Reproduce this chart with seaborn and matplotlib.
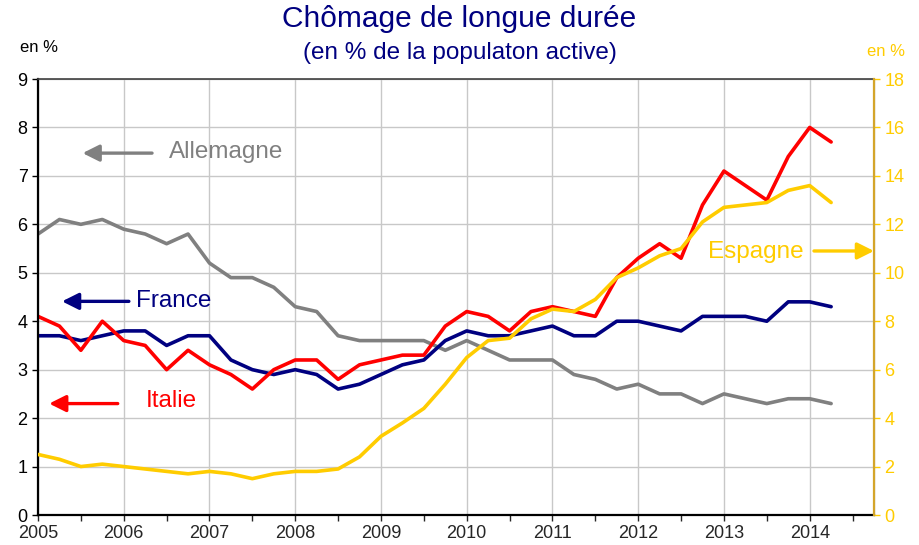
import matplotlib
matplotlib.use("Agg")
import matplotlib.pyplot as plt
import matplotlib.ticker as mticker
import numpy as np
import pandas as pd
import seaborn as sns

# quarterly data, 2005Q1 -> 2014Q2
periods = pd.period_range("2005Q1", "2014Q2", freq="Q")
dates = [p.year + (p.quarter - 1) / 4 for p in periods]

allemagne = [5.8, 6.1, 6.0, 6.1, 5.9, 5.8, 5.6, 5.8, 5.2, 4.9, 4.9, 4.7, 4.3, 4.2, 3.7, 3.6,
             3.6, 3.6, 3.6, 3.4, 3.6, 3.4, 3.2, 3.2, 3.2, 2.9, 2.8, 2.6, 2.7, 2.5, 2.5, 2.3,
             2.5, 2.4, 2.3, 2.4, 2.4, 2.3]
france = [3.7, 3.7, 3.6, 3.7, 3.8, 3.8, 3.5, 3.7, 3.7, 3.2, 3.0, 2.9, 3.0, 2.9, 2.6, 2.7,
          2.9, 3.1, 3.2, 3.6, 3.8, 3.7, 3.7, 3.8, 3.9, 3.7, 3.7, 4.0, 4.0, 3.9, 3.8, 4.1,
          4.1, 4.1, 4.0, 4.4, 4.4, 4.3]
italie = [4.1, 3.9, 3.4, 4.0, 3.6, 3.5, 3.0, 3.4, 3.1, 2.9, 2.6, 3.0, 3.2, 3.2, 2.8, 3.1,
          3.2, 3.3, 3.3, 3.9, 4.2, 4.1, 3.8, 4.2, 4.3, 4.2, 4.1, 4.9, 5.3, 5.6, 5.3, 6.4,
          7.1, 6.8, 6.5, 7.4, 8.0, 7.7]
espagne = [2.5, 2.3, 2.0, 2.1, 2.0, 1.9, 1.8, 1.7, 1.8, 1.7, 1.5, 1.7, 1.8, 1.8, 1.9, 2.4,
           3.25, 3.8, 4.4, 5.4, 6.5, 7.2, 7.3, 8.1, 8.5, 8.4, 8.9, 9.8, 10.2, 10.7, 11.0, 12.1,
           12.7, 12.8, 12.9, 13.4, 13.6, 12.9]

years = list(range(2005, 2015))

colors = {"Allemagne": "#808080", "France": "#000080", "Italie": "#FF0000"}
gold = "#FFCC00"
navy = "#000080"

sns.set_style("white")
plt.rcParams["font.family"] = ["Liberation Sans", "DejaVu Sans"]

df = pd.DataFrame({"date": dates, "Allemagne": allemagne, "France": france, "Italie": italie})
long_df = df.melt(id_vars="date", var_name="pays", value_name="taux")
esp_df = pd.DataFrame({"date": dates, "Espagne": espagne})

fig = plt.figure(figsize=(9.19, 5.45), dpi=100)
ax = fig.add_axes([38 / 919, 30 / 545, 836 / 919, 436 / 545])

sns.lineplot(data=long_df, x="date", y="taux", hue="pays", palette=colors,
             linewidth=2.6, legend=False, ax=ax)

ax2 = ax.twinx()
sns.lineplot(data=esp_df, x="date", y="Espagne", color=gold, linewidth=2.6, ax=ax2)

ax.set_xlim(2005, 2014.75)
ax.set_ylim(0, 9)
ax2.set_ylim(0, 18)

ax.set_xticks(years)
ax.set_xticklabels([str(y) for y in years], fontsize=13)
ax.xaxis.set_minor_locator(mticker.FixedLocator([y + 0.5 for y in years]))
ax.set_yticks(range(0, 10))
ax.tick_params(axis="y", labelsize=13, length=4, width=1, direction="out", left=True, colors="black")
ax.tick_params(axis="x", which="both", length=4, width=1, direction="out", bottom=True, pad=3)
ax2.set_yticks(range(0, 19, 2))
ax2.tick_params(axis="y", labelsize=13, length=4, width=1, direction="out", right=True,
                colors=gold, labelcolor=gold)

ax.grid(True, color="#C8C8C8", linewidth=1)
ax.set_axisbelow(True)
ax.set_xlabel("")
ax.set_ylabel("")
ax2.set_ylabel("")

for sp in ["left", "bottom"]:
    ax.spines[sp].set_color("black")
    ax.spines[sp].set_linewidth(1.6)
ax.spines["top"].set_color("#404040")
ax.spines["top"].set_linewidth(1.2)
ax2.spines["right"].set_color("#D4A52A")
ax2.spines["right"].set_linewidth(1.6)
ax2.spines["left"].set_visible(False)
ax2.spines["top"].set_visible(False)
ax2.spines["bottom"].set_visible(False)

# titles and unit labels
fig.text(0.5, 0.965, "Chômage de longue durée", ha="center", va="center", fontsize=21.5, color=navy)
fig.text(0.5, 0.903, "(en % de la populaton active)", ha="center", va="center", fontsize=17.5, color=navy)
fig.text(39 / 919, 0.912, "en %", ha="center", va="center", fontsize=12, color="black")
fig.text(886 / 919, 0.906, "en %", ha="center", va="center", fontsize=12, color=gold)

# series labels with arrows
arrow = dict(arrowstyle="-|>,head_length=1.0,head_width=0.5", lw=2.4, shrinkA=0, shrinkB=0)
ax.annotate("", xy=(2005.52, 7.47), xytext=(2006.33, 7.47),
            arrowprops=dict(arrow, color=colors["Allemagne"]))
ax.text(2006.53, 7.5, "Allemagne", color=colors["Allemagne"], fontsize=17.5, va="center", ha="left")
ax.annotate("", xy=(2005.28, 4.41), xytext=(2006.06, 4.41),
            arrowprops=dict(arrow, color=colors["France"]))
ax.text(2006.14, 4.41, "France", color=colors["France"], fontsize=17.5, va="center", ha="left")
ax.annotate("", xy=(2005.13, 2.3), xytext=(2005.93, 2.3),
            arrowprops=dict(arrow, color=colors["Italie"]))
ax.text(2006.26, 2.35, "Italie", color=colors["Italie"], fontsize=17.5, va="center", ha="left")
ax2.annotate("", xy=(2014.75, 10.9), xytext=(2014.05, 10.9),
             arrowprops=dict(arrow, color=gold))
ax2.text(2012.81, 10.85, "Espagne", color=gold, fontsize=17.5, va="center", ha="left")

fig.savefig("out.png", dpi=100)
